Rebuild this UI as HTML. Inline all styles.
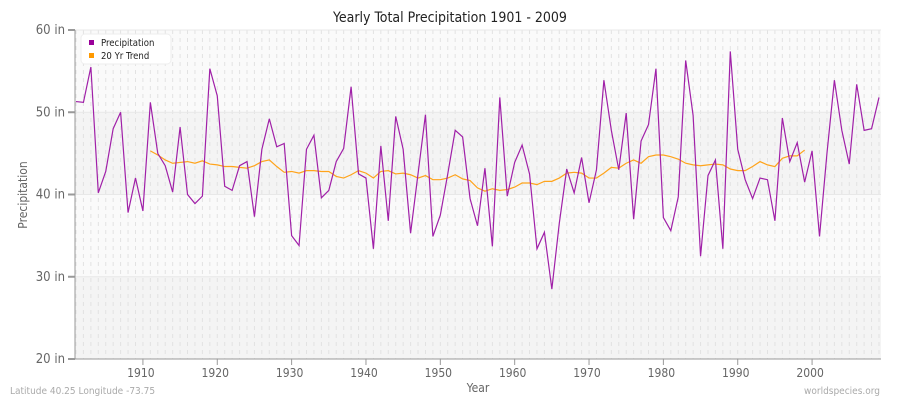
<!DOCTYPE html>
<html><head><meta charset="utf-8"><style>
body{margin:0;background:#fff;font-family:"DejaVu Sans Condensed","Liberation Sans",sans-serif;}
svg text{font-family:"DejaVu Sans Condensed","DejaVu Sans","Liberation Sans",sans-serif;font-stretch:condensed;}
</style></head><body>
<svg id="c" width="900" height="400" xmlns="http://www.w3.org/2000/svg">
<text x="450" y="22" text-anchor="middle" font-size="14" fill="#222">Yearly Total Precipitation 1901 - 2009</text>
<g id="bg"></g><g id="grid"></g><g id="axes"></g><g id="series"></g>
<text x="27" y="195" transform="rotate(-90 27 195)" text-anchor="middle" font-size="12" fill="#666">Precipitation</text>
<text x="478" y="392" text-anchor="middle" font-size="12" fill="#666">Year</text>
<text x="10" y="394" font-size="10" fill="#aaa">Latitude 40.25 Longitude -73.75</text>
<text x="880" y="394" text-anchor="end" font-size="10" fill="#aaa">worldspecies.org</text>
<g>
<rect x="81" y="34" width="90" height="30" rx="4" fill="#fff" stroke="#eee"/>
<rect x="89" y="40" width="5" height="5" fill="#990099"/>
<text x="101" y="46" font-size="9.5" fill="#222">Precipitation</text>
<rect x="89" y="53" width="5" height="5" fill="#ff9900"/>
<text x="101" y="59" font-size="9.5" fill="#222">20 Yr Trend</text>
</g>
</svg>
<script>
const startYear=1901;
const precip=[51.3,51.2,55.5,40.2,42.8,48,50,37.8,42,38,51.2,45,43.5,40.3,48.2,40,38.9,39.8,55.3,52,41,40.5,43.5,44,37.3,45.5,49.2,45.8,46.2,35,33.8,45.5,47.2,39.6,40.5,44,45.6,53.1,42.5,42,33.4,45.9,36.8,49.5,45.5,35.3,42.5,49.7,34.9,37.5,42.5,47.8,47,39.5,36.2,43.2,33.7,51.8,39.8,43.9,46,42.5,33.4,35.4,28.5,36.5,43.1,40.2,44.5,39,43,53.9,47.8,43,49.9,37,46.5,48.5,55.3,37.2,35.6,39.7,56.3,49.6,32.5,42.3,44.2,33.4,57.4,45.5,41.8,39.5,42,41.8,36.8,49.3,44,46.3,41.5,45.3,34.9,45,53.9,47.8,43.7,53.4,47.8,48,51.8];
const trendStart=1911;
const trend=[45.3,44.8,44.2,43.8,43.9,44,43.8,44.1,43.7,43.6,43.4,43.4,43.3,43.2,43.5,44,44.2,43.4,42.7,42.8,42.6,42.9,42.9,42.8,42.8,42.2,42,42.4,42.9,42.6,42.0,42.8,42.9,42.5,42.6,42.4,42.0,42.3,41.8,41.8,42.0,42.4,41.9,41.7,40.8,40.4,40.7,40.5,40.6,40.9,41.4,41.4,41.2,41.6,41.6,42,42.6,42.7,42.6,42.0,42,42.6,43.3,43.2,43.8,44.2,43.8,44.6,44.8,44.8,44.6,44.3,43.8,43.6,43.5,43.6,43.7,43.6,43.1,42.9,42.9,43.4,44,43.6,43.4,44.4,44.7,44.7,45.4];
const yTicks=[20,30,40,50,60];
const xTicks=[1910,1920,1930,1940,1950,1960,1970,1980,1990,2000];
const X0=75,X1=881,Y0=359,Y1=30;
const x=y=>76+(y-1901)*(879-76)/108;
const yv=v=>Y0-(v-20)*(Y0-Y1)/40;
const NS='http://www.w3.org/2000/svg';
function mk(p,t,a){const e=document.createElementNS(NS,t);for(const k in a)e.setAttribute(k,a[k]);document.getElementById(p).appendChild(e);return e;}
for(let i=0;i<yTicks.length-1;i++){
 const r=mk('bg','rect',{x:X0,y:yv(yTicks[i+1]),width:X1-X0,height:yv(yTicks[i])-yv(yTicks[i+1]),fill:i%2==0?'#f4f4f4':'#fafafa'});
 
 
}
for(let yr=1901;yr<=2009;yr++){
 const l=mk('grid','line',{x1:x(yr),x2:x(yr),y1:Y1,y2:Y0,stroke:'#e2e2e2','stroke-dasharray':'4,4','stroke-width':1});
 
 
}
yTicks.forEach(t=>{
 const l=mk('grid','line',{x1:X0,x2:X1,y1:yv(t),y2:yv(t),stroke:'#e8e8e8','stroke-width':1});
 
 
 const k=mk('axes','line',{x1:X0-7,x2:X0,y1:yv(t),y2:yv(t),stroke:'#999','stroke-width':2});
 
 
 const tx=mk('axes','text',{x:X0-10,y:yv(t)+4,'text-anchor':'end','font-size':13,fill:'#666'});
 tx.textContent=t+' in';
 
 
});
xTicks.forEach(t=>{
 const k=mk('axes','line',{x1:x(t),x2:x(t),y1:Y0,y2:Y0+6,stroke:'#999'});
 
 
 const tx=mk('axes','text',{x:x(t)-2,y:Y0+18,'text-anchor':'middle','font-size':12,fill:'#666'});
 tx.textContent=t;
 
 
});
const ya=mk('axes','line',{x1:X0,x2:X0,y1:Y1,y2:Y0,stroke:'#999'});


const xa=mk('axes','line',{x1:X0,x2:X1,y1:Y0,y2:Y0,stroke:'#999'});


const tl=mk('series','polyline',{points:trend.map((v,i)=>x(trendStart+i)+','+yv(v)).join(' '),fill:'none',stroke:'#ffa31a','stroke-width':1.2});


const pl=mk('series','polyline',{points:precip.map((v,i)=>x(startYear+i)+','+yv(v)).join(' '),fill:'none',stroke:'#a020a8','stroke-width':1.2});


</script>
</body></html>
